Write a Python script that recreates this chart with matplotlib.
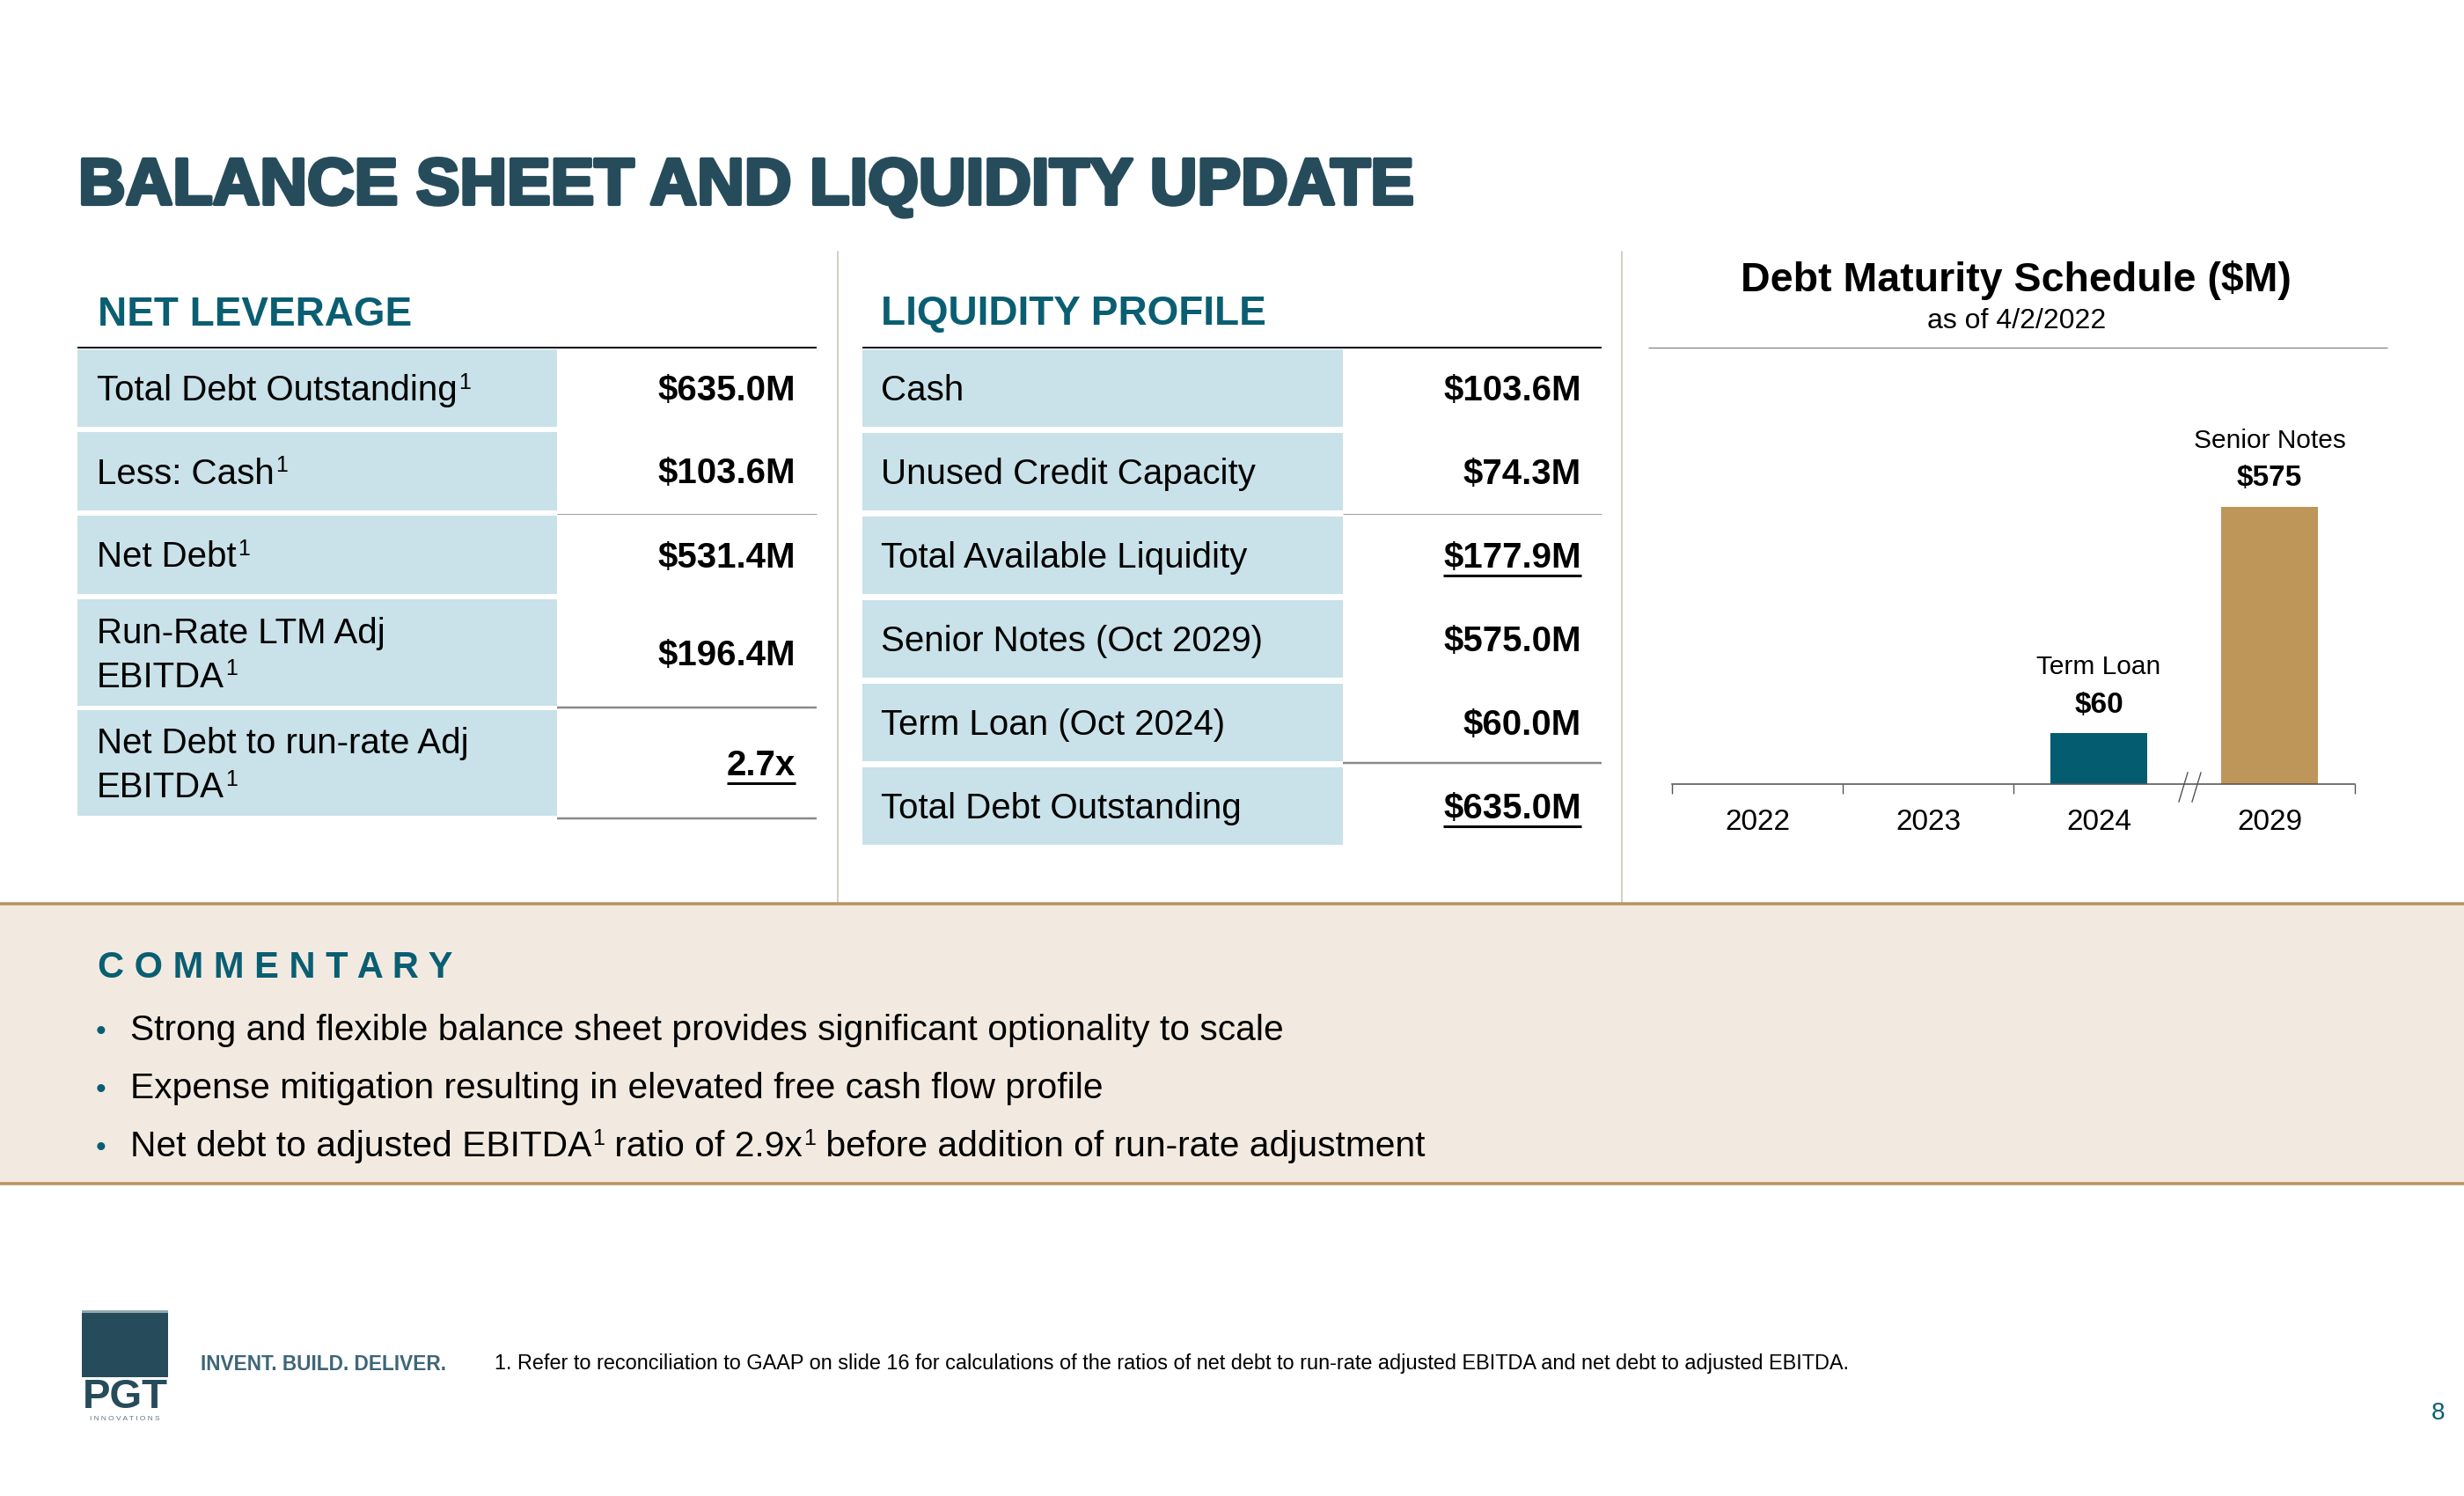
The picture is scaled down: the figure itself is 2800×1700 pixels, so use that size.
import matplotlib
matplotlib.use("Agg")
import matplotlib.pyplot as plt
from matplotlib.patches import Rectangle
import matplotlib.patheffects as pe

plt.rcParams['font.family'] = ['Liberation Sans', 'DejaVu Sans']

# ---- data ----
leverage_labels = [["Total Debt Outstanding"], ["Less: Cash"], ["Net Debt"],
                   ["Run-Rate LTM Adj", "EBITDA"], ["Net Debt to run-rate Adj", "EBITDA"]]
leverage_values = ["$635.0M", "$103.6M", "$531.4M", "$196.4M", "2.7x"]
leverage_underline = [False, False, False, False, True]

liquidity_labels = ["Cash", "Unused Credit Capacity", "Total Available Liquidity",
                    "Senior Notes (Oct 2029)", "Term Loan (Oct 2024)", "Total Debt Outstanding"]
liquidity_values = ["$103.6M", "$74.3M", "$177.9M", "$575.0M", "$60.0M", "$635.0M"]
liquidity_underline = [False, False, True, False, False, True]

years = ["2022", "2023", "2024", "2029"]
maturities = [0, 0, 60, 575]
maturity_names = ["", "", "Term Loan", "Senior Notes"]
bar_colors = ["#045C70", "#045C70", "#045C70", "#BE9659"]

commentary = [
    [("Strong and flexible balance sheet provides significant optionality to scale", False)],
    [("Expense mitigation resulting in elevated free cash flow profile", False)],
    [("Net debt to adjusted EBITDA", False), ("1", True), (" ratio of 2.9x", False), ("1", True),
     (" before addition of run-rate adjustment", False)],
]
footnote = ("1. Refer to reconciliation to GAAP on slide 16 for calculations of the ratios of net debt "
            "to run-rate adjusted EBITDA and net debt to adjusted EBITDA.")

# ---- colours ----
TITLE = "#264C5C"
TEAL = "#0A5E72"
CELL = "#C9E1E8"
TAN = "#B9935F"
BEIGE = "#F2EAE0"
SEP = "#C9BFAE"

W, H = 2800, 1700
fig = plt.figure(figsize=(28, 17), dpi=100)
bg = fig.add_axes([0, 0, 1, 1])
bg.set_xlim(0, W)
bg.set_ylim(H, 0)
bg.axis('off')
r = fig.canvas.get_renderer()


def pt(v):
    # pixels -> points
    return v * 0.72


def put(x, y, s, size, **kw):
    kw.setdefault('va', 'baseline')
    return bg.text(x, y, s, fontsize=size, **kw)


def put_parts(x, y, parts, size, color='black'):
    for s, sup in parts:
        if sup:
            t = put(x + 1, y - size * 0.46, s, size * 0.62, color=color)
        else:
            t = put(x, y, s, size, color=color)
        x = t.get_window_extent(r).x1
    return x


def hline(x0, x1, y, color, lw):
    bg.plot([x0, x1], [y, y], color=color, lw=pt(lw), solid_capstyle='butt')


def value(x, y, s, under):
    t = put(x, y, s, 29, weight='bold', ha='right')
    if under:
        bb = t.get_window_extent(r)
        hline(bb.x0, bb.x1, y + 9, 'black', 3)


# title
put(89, 232, "BALANCE SHEET AND LIQUIDITY UPDATE", 53.5, weight='bold', color=TITLE,
    path_effects=[pe.withStroke(linewidth=3, foreground=TITLE)])

# separators
for x in (952, 1843):
    bg.plot([x, x], [286, 1027], color=SEP, lw=pt(1.5))

# ---- net leverage table ----
put(111, 370, "NET LEVERAGE", 33, weight='bold', color=TEAL)
hline(88, 928, 395, 'black', 2)
lev_rows = [(397, 485), (491, 580), (586, 675), (681, 802), (807, 927)]
for (top, bot), lab, val, und in zip(lev_rows, leverage_labels, leverage_values, leverage_underline):
    bg.add_patch(Rectangle((88, top), 545, bot - top, color=CELL, lw=0))
    c = (top + bot) / 2
    if len(lab) == 1:
        put_parts(110, c + 14, [(lab[0], False), ("1", True)], 29)
    else:
        put(110, c - 11, lab[0], 29)
        put_parts(110, c + 39, [(lab[1], False), ("1", True)], 29)
    value(904, c + 14, val, und)
hline(633, 928, 584, '#9A9A9A', 1)
hline(633, 928, 804, '#8A8A8A', 2.5)
hline(633, 928, 930, '#8A8A8A', 2.5)

# ---- liquidity table ----
put(1001, 369, "LIQUIDITY PROFILE", 33, weight='bold', color=TEAL)
hline(980, 1820, 395, 'black', 2)
liq_top = 397
for i, (lab, val, und) in enumerate(zip(liquidity_labels, liquidity_values, liquidity_underline)):
    top = liq_top + i * 95
    bg.add_patch(Rectangle((980, top), 546, 88, color=CELL, lw=0))
    c = top + 44
    put(1001, c + 14, lab, 29)
    value(1797, c + 14, val, und)
hline(1526, 1820, 584, '#9A9A9A', 1)
hline(1526, 1820, 867, '#8A8A8A', 2.5)

# ---- debt maturity chart ----
put(2291, 331, "Debt Maturity Schedule ($M)", 33.5, weight='bold', ha='center')
put(2292, 373, "as of 4/2/2022", 23, ha='center')
hline(1873, 2713, 395, '#808080', 1.2)

ax_base = 891
ax_h = 491
ax1 = fig.add_axes([1900 / W, 1 - ax_base / H, 582 / W, ax_h / H])
ax2 = fig.add_axes([2482 / W, 1 - ax_base / H, 194 / W, ax_h / H])
n1 = 3
ax1.bar(range(n1), maturities[:n1], width=0.57, color=bar_colors[:n1])
ax2.bar(range(len(years) - n1), maturities[n1:], width=0.57, color=bar_colors[n1:])
ax1.set_xlim(-0.5, n1 - 0.5)
ax2.set_xlim(-0.5, len(years) - n1 - 0.5)
ax1.set_ylim(0, 508)
ax2.set_ylim(0, 896)
ax1.set_xticks([-0.5, 0.5, 1.5])
ax2.set_xticks([0.5])
ax1.set_xticks(range(n1), years[:n1], minor=True)
ax2.set_xticks(range(len(years) - n1), years[n1:], minor=True)
for ax in (ax1, ax2):
    ax.patch.set_visible(False)
    for s in ('top', 'left', 'right'):
        ax.spines[s].set_visible(False)
    ax.spines['bottom'].set_color('#555555')
    ax.spines['bottom'].set_linewidth(pt(1.6))
    ax.set_yticks([])
    ax.tick_params(axis='x', which='major', length=pt(11), width=pt(1.4), color='#555555',
                   labelbottom=False)
    ax.tick_params(axis='x', which='minor', length=0, pad=pt(28), labelsize=24)

for i, (amt, name) in enumerate(zip(maturities, maturity_names)):
    if amt <= 0:
        continue
    ax = ax1 if i < n1 else ax2
    xi = i if i < n1 else i - n1
    ax.annotate(f"${amt}", xy=(xi, amt), xytext=(0, 23), textcoords='offset points',
                ha='center', va='center', fontsize=24, weight='bold')
    ax.annotate(name, xy=(xi, amt), xytext=(0, 54), textcoords='offset points',
                ha='center', va='center', fontsize=21.5)

# axis break marks
for dx in (0, 15):
    bg.plot([2486 + dx, 2476 + dx], [878, 911], color='#555555', lw=pt(1.4))

# ---- commentary band ----
bg.add_patch(Rectangle((0, 1027), W, 318, color=BEIGE, lw=0))
hline(0, W, 1027, TAN, 3.5)
hline(0, W, 1345, TAN, 3.5)
put(111, 1111, " ".join("COMMENTARY"), 30, weight='bold', color=TEAL)
for k, parts in enumerate(commentary):
    y = 1182 + k * 66
    put(114, y, "\u2022", 24, color=TEAL, ha='center')
    put_parts(148, y, parts, 29.3)

# ---- footer ----
bg.add_patch(Rectangle((93, 1489), 98, 76, color=TITLE, lw=0))
bg.add_patch(Rectangle((93, 1489), 98, 3, color='#8FA7B1', lw=0))
put(142, 1600, "PGT", 34, weight='bold', color=TITLE, ha='center')
put(142, 1614, " ".join("INNOVATIONS"), 6, color='#5B7785', ha='center')
put(228, 1557, "INVENT. BUILD. DELIVER.", 16.3, weight='bold', color='#3E6678')
put(562, 1556, footnote, 16.9)
put(2771, 1613, "8", 20, color=TEAL, ha='center')

fig.savefig("out.png", dpi=100)
